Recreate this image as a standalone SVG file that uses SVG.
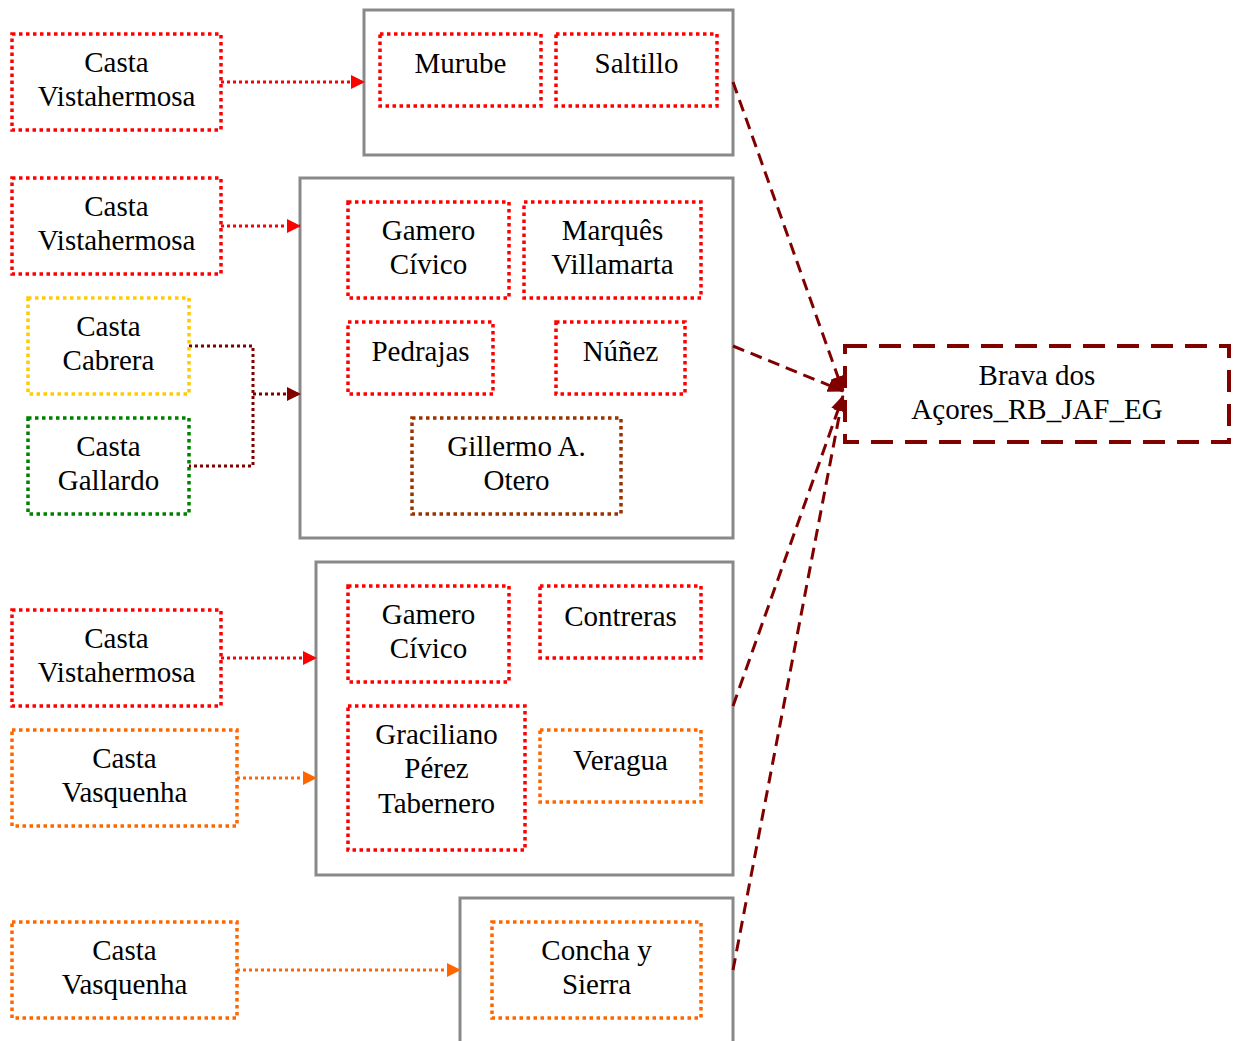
<svg xmlns="http://www.w3.org/2000/svg" width="1234" height="1041" viewBox="0 0 1234 1041">
<defs>
<style>
text{font-size:29px;fill:#000;text-anchor:middle}
.grp{fill:#fff;stroke:#898989;stroke-width:3}
.n{fill:#fff;stroke-width:3.5;stroke-dasharray:3.5 3.5}
.red{stroke:#ff0000}.org{stroke:#ff6600}.gold{stroke:#ffcc00}.grn{stroke:#008000}.brn{stroke:#993300}
.c{fill:none;stroke-width:3;stroke-dasharray:3 3}
.d{fill:none;stroke:#800000;stroke-width:3;stroke-dasharray:12 7}
</style>
<marker id="mr" markerWidth="14" markerHeight="14" refX="13" refY="7" orient="auto" markerUnits="userSpaceOnUse" viewBox="0 0 14 14"><path d="M0,0L14,7L0,14z" fill="#ff0000"/></marker>
<marker id="mo" markerWidth="14" markerHeight="14" refX="13" refY="7" orient="auto" markerUnits="userSpaceOnUse" viewBox="0 0 14 14"><path d="M0,0L14,7L0,14z" fill="#ff6600"/></marker>
<marker id="mb" markerWidth="14" markerHeight="14" refX="13" refY="7" orient="auto" markerUnits="userSpaceOnUse" viewBox="0 0 14 14"><path d="M0,0L14,7L0,14z" fill="#800000"/></marker>
<marker id="md" markerWidth="16" markerHeight="14" refX="15" refY="7" orient="auto" markerUnits="userSpaceOnUse" viewBox="0 0 16 14"><path d="M0,0L16,7L0,14z" fill="#800000"/></marker>
</defs>
<g font-family="Liberation Serif, Times New Roman, serif">
<g id="group1"><rect class="grp" x="364" y="10" width="369" height="145"/></g>
<g id="group2"><rect class="grp" x="300" y="178" width="433" height="360"/></g>
<g id="group3"><rect class="grp" x="316" y="562" width="417" height="313"/></g>
<g id="group4"><rect class="grp" x="460" y="898" width="273" height="150"/></g>

<g id="connectors">
<path class="c" stroke="#ff0000" d="M221,82H364" marker-end="url(#mr)"/>
<path class="c" stroke="#ff0000" d="M221,226H300" marker-end="url(#mr)"/>
<path class="c" stroke="#800000" d="M189,346H253V466H189"/>
<path class="c" stroke="#800000" d="M253,394H300" marker-end="url(#mb)"/>
<path class="c" stroke="#ff0000" d="M221,658H316" marker-end="url(#mr)"/>
<path class="c" stroke="#ff6600" d="M237,778H316" marker-end="url(#mo)"/>
<path class="c" stroke="#ff6600" d="M237,970H460" marker-end="url(#mo)"/>
<path class="d" d="M733,82L843,391" marker-end="url(#md)"/>
<path class="d" d="M733,346L843,391" marker-end="url(#md)"/>
<path class="d" d="M733,706L843,396" marker-end="url(#md)"/>
<path class="d" d="M733,970L843,396" marker-end="url(#md)"/>
</g>

<g id="cv1"><rect class="n red" x="12" y="34" width="209" height="96"/><text x="116.5" y="72">Casta</text><text x="116.5" y="106">Vistahermosa</text></g>
<g id="murube"><rect class="n red" x="380" y="34" width="161" height="72"/><text x="460.5" y="73">Murube</text></g>
<g id="saltillo"><rect class="n red" x="556" y="34" width="161" height="72"/><text x="636.5" y="73">Saltillo</text></g>

<g id="cv2"><rect class="n red" x="12" y="178" width="209" height="96"/><text x="116.5" y="216">Casta</text><text x="116.5" y="250">Vistahermosa</text></g>
<g id="cabrera"><rect class="n gold" x="28" y="298" width="161" height="96"/><text x="108.5" y="336">Casta</text><text x="108.5" y="370">Cabrera</text></g>
<g id="gallardo"><rect class="n grn" x="28" y="418" width="161" height="96"/><text x="108.5" y="456">Casta</text><text x="108.5" y="490">Gallardo</text></g>
<g id="gamero1"><rect class="n red" x="348" y="202" width="161" height="96"/><text x="428.5" y="240">Gamero</text><text x="428.5" y="274">Cívico</text></g>
<g id="marques"><rect class="n red" x="524" y="202" width="177" height="96"/><text x="612.5" y="240">Marquês</text><text x="612.5" y="274">Villamarta</text></g>
<g id="pedrajas"><rect class="n red" x="348" y="322" width="145" height="72"/><text x="420.5" y="361">Pedrajas</text></g>
<g id="nunez"><rect class="n red" x="556" y="322" width="129" height="72"/><text x="620.5" y="361">Núñez</text></g>
<g id="gillermo"><rect class="n brn" x="412" y="418" width="209" height="96"/><text x="516.5" y="456">Gillermo A.</text><text x="516.5" y="490">Otero</text></g>

<g id="cv3"><rect class="n red" x="12" y="610" width="209" height="96"/><text x="116.5" y="648">Casta</text><text x="116.5" y="682">Vistahermosa</text></g>
<g id="vasq1"><rect class="n org" x="12" y="730" width="225" height="96"/><text x="124.5" y="768">Casta</text><text x="124.5" y="802">Vasquenha</text></g>
<g id="gamero2"><rect class="n red" x="348" y="586" width="161" height="96"/><text x="428.5" y="624">Gamero</text><text x="428.5" y="658">Cívico</text></g>
<g id="contreras"><rect class="n red" x="540" y="586" width="161" height="72"/><text x="620.5" y="626">Contreras</text></g>
<g id="graciliano"><rect class="n red" x="348" y="706" width="177" height="144"/><text x="436.5" y="744">Graciliano</text><text x="436.5" y="778">Pérez</text><text x="436.5" y="813">Tabernero</text></g>
<g id="veragua"><rect class="n org" x="540" y="730" width="161" height="72"/><text x="620.5" y="770">Veragua</text></g>

<g id="vasq2"><rect class="n org" x="12" y="922" width="225" height="96"/><text x="124.5" y="960">Casta</text><text x="124.5" y="994">Vasquenha</text></g>
<g id="concha"><rect class="n org" x="492" y="922" width="209" height="96"/><text x="596.5" y="960">Concha y</text><text x="596.5" y="994">Sierra</text></g>

<g id="brava"><rect x="845" y="346" width="384" height="96" fill="#fff" stroke="#800000" stroke-width="4" stroke-dasharray="22 12"/><text x="1037" y="385">Brava dos</text><text x="1037" y="419">Açores_RB_JAF_EG</text></g>
</g>
</svg>
